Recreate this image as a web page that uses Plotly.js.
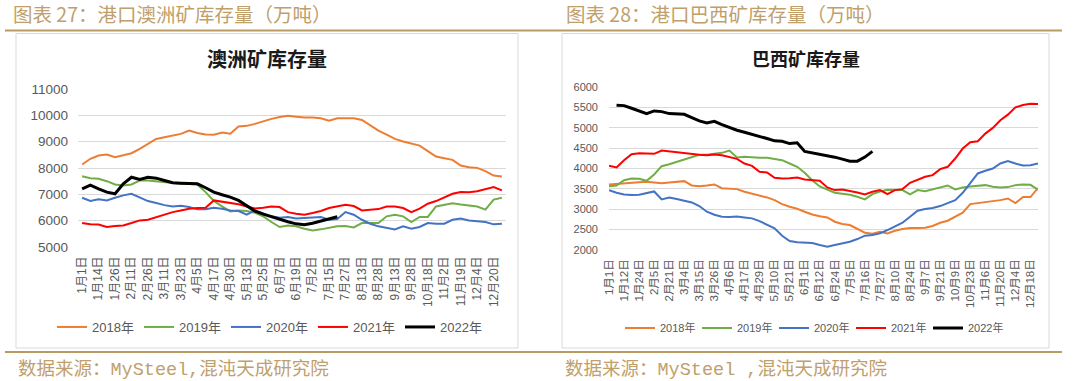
<!DOCTYPE html>
<html>
<head>
<meta charset="utf-8">
<script src="https://cdn.plot.ly/plotly-3.0.1.min.js"></script>
<style>
html,body{margin:0;padding:0;background:#fff;}
#chart{width:1080px;height:381px;}
</style>
</head>
<body>
<div id="chart"></div>
<script>
// ---------- Left chart: 澳洲矿库存量 ----------
const ausTickLabels = ["1月1日","1月14日","1月26日","2月11日","2月26日","3月11日","3月23日","4月5日","4月17日","4月30日","5月13日","5月25日","6月7日","6月19日","7月2日","7月15日","7月27日","8月13日","8月28日","9月13日","9月28日","10月18日","11月2日","11月19日","12月4日","12月20日"];
const aus2018 = [8133,8350,8475,8510,8410,8475,8560,8730,8915,9105,9170,9220,9295,9420,9330,9270,9260,9345,9300,9575,9600,9675,9775,9865,9940,9980,9950,9915,9915,9890,9800,9890,9890,9890,9825,9610,9420,9270,9105,9005,8940,8850,8640,8435,8370,8310,8095,8030,8005,7880,7715,7680];
const aus2019 = [7690,7615,7590,7500,7375,7340,7375,7525,7525,7490,7450,7425,7400,7390,7375,7085,6745,6540,6350,6390,6365,6300,6160,5950,5760,5820,5784,5695,5630,5670,5730,5785,5800,5745,5910,5910,5910,6165,6225,6165,5950,6140,6140,6540,6615,6665,6615,6565,6540,6420,6800,6870];
const aus2020 = [6870,6745,6810,6770,6870,6960,7020,6895,6745,6670,6590,6540,6565,6515,6430,6430,6490,6455,6390,6365,6225,6390,6265,6165,6110,6140,6085,6110,6140,6140,6035,6060,6325,6225,6035,5885,5785,5720,5670,5785,5695,5760,5910,5885,5885,6035,6085,6010,5985,5950,5860,5885];
const aus2021 = [5910,5860,5850,5760,5800,5820,5910,6010,6035,6140,6225,6325,6390,6455,6480,6490,6770,6720,6670,6620,6540,6465,6490,6540,6515,6325,6265,6225,6290,6365,6480,6540,6605,6555,6390,6415,6440,6540,6540,6480,6325,6455,6645,6745,6870,7020,7085,7080,7120,7200,7280,7150];
const aus2022 = [7210,7350,7210,7085,7020,7400,7650,7565,7650,7615,7525,7440,7425,7425,7400,7250,7085,6985,6895,6770,6555,6365,6250,6150,6050,5960,5880,5850,5900,5980,6080,6150];

// ---------- Right chart: 巴西矿库存量 ----------
const braTickLabels = ["1月1日","1月12日","1月24日","2月5日","2月21日","3月4日","3月15日","3月26日","4月6日","4月17日","4月29日","5月10日","5月21日","6月1日","6月12日","6月24日","7月5日","7月16日","7月27日","8月10日","8月24日","9月7日","9月21日","10月9日","10月23日","11月6日","11月20日","12月4日","12月18日"];
const bra2018 = [3608,3625,3641,3657,3665,3673,3649,3641,3657,3673,3690,3584,3567,3584,3608,3518,3510,3494,3429,3380,3347,3290,3224,3127,3061,3012,2939,2873,2830,2800,2694,2637,2612,2514,2424,2400,2449,2408,2473,2514,2539,2539,2547,2588,2669,2718,2816,2914,3127,3151,3192,3208,3224,3265,3150,3300,3300,3520];
const bra2019 = [3567,3584,3714,3755,3747,3698,3853,4057,4106,4163,4229,4286,4335,4335,4351,4384,4440,4270,4286,4270,4261,4261,4229,4204,4122,4041,3894,3714,3560,3486,3404,3380,3355,3306,3241,3371,3437,3478,3470,3470,3363,3470,3445,3494,3543,3584,3486,3535,3559,3567,3592,3551,3535,3543,3592,3608,3600,3480];
const bra2020 = [3469,3404,3363,3347,3355,3396,3437,3241,3290,3249,3208,3167,3078,2939,2865,2816,2808,2824,2800,2776,2710,2612,2531,2351,2220,2188,2180,2171,2122,2082,2122,2163,2204,2269,2351,2367,2408,2490,2571,2669,2816,2963,3004,3029,3078,3143,3224,3404,3633,3878,3943,4000,4122,4180,4122,4073,4082,4122];
const bra2021 = [4065,4025,4204,4351,4376,4360,4360,4440,4416,4400,4384,4351,4335,4327,4343,4327,4286,4237,4122,4065,3918,3902,3771,3755,3763,3780,3731,3714,3698,3535,3470,3486,3453,3412,3363,3429,3470,3372,3470,3494,3649,3731,3796,3837,3984,4041,4245,4490,4645,4669,4857,4996,5184,5322,5500,5560,5590,5580];
const bra2022 = [null,5551,5543,5478,5404,5347,5412,5396,5347,5339,5331,5249,5167,5118,5159,5078,5004,4939,4890,4841,4800,4735,4678,4670,4612,4629,4420,4384,4351,4320,4278,4229,4180,4180,4280,4420];

const seriesNames = ["2018年","2019年","2020年","2021年","2022年"];
const seriesColors = ["#ED7D31","#70AD47","#4472C4","#FF0000","#000000"];
const seriesWidths = [2,2,2,2,3];

const W = 1080, H = 381;
const px = v => v / W;
const py = v => 1 - v / H;
const idx = arr => arr.map((_, i) => i);

const ausSeries = [aus2018, aus2019, aus2020, aus2021, aus2022];
const braSeries = [bra2018, bra2019, bra2020, bra2021, bra2022];

const traces = [];
ausSeries.forEach((s, k) => traces.push({
  type: 'scatter', mode: 'lines', x: idx(s), y: s, name: seriesNames[k],
  line: {color: seriesColors[k], width: seriesWidths[k]},
  xaxis: 'x', yaxis: 'y', legend: 'legend', hoverinfo: 'skip'
}));
braSeries.forEach((s, k) => traces.push({
  type: 'scatter', mode: 'lines', x: idx(s), y: s, name: seriesNames[k],
  line: {color: seriesColors[k], width: seriesWidths[k]},
  xaxis: 'x2', yaxis: 'y2', legend: 'legend2', hoverinfo: 'skip'
}));

const tickFontFamily = 'Liberation Sans, Arial, Noto Sans CJK SC, sans-serif';
const cjk = 'Noto Sans CJK SC, sans-serif';
const mono = 'Liberation Mono, DejaVu Sans Mono, monospace';
const gold = '#bfa06b';
const goldLine = '#b99a63';

const sourceLeft = '数据来源：<span style="font-family:' + mono + '">MySteel,</span>混沌天成研究院';
const sourceRight = '数据来源：<span style="font-family:' + mono + '">MySteel ,</span>混沌天成研究院';

const layout = {
  width: W, height: H,
  margin: {l: 0, r: 0, t: 0, b: 0},
  paper_bgcolor: '#ffffff', plot_bgcolor: '#ffffff',
  showlegend: true,
  font: {family: tickFontFamily, color: '#595959'},
  xaxis: {
    domain: [px(78), px(506)], range: [-0.5, ausSeries[0].length - 0.5],
    tickmode: 'array', tickvals: ausTickLabels.map((_, k) => 2 * k), ticktext: ausTickLabels,
    tickangle: -90, tickfont: {size: 12, color: '#595959', family: tickFontFamily},
    showgrid: false, zeroline: false, showline: false, ticks: '', ticklabelstandoff: 6,
    anchor: 'y', fixedrange: true
  },
  yaxis: {
    domain: [py(247), py(89)], range: [5000, 11000], dtick: 1000, tick0: 5000, tickformat: 'd',
    gridcolor: '#d9d9d9', gridwidth: 1, zeroline: false, showline: false, ticks: '',
    tickfont: {size: 13.5, color: '#595959', family: tickFontFamily}, ticklabelstandoff: 9,
    anchor: 'x', fixedrange: true
  },
  xaxis2: {
    domain: [px(609), px(1038)], range: [0, braSeries[0].length - 1],
    tickmode: 'array', tickvals: braTickLabels.map((_, k) => 2 * k), ticktext: braTickLabels,
    tickangle: -90, tickfont: {size: 11.5, color: '#595959', family: tickFontFamily},
    showgrid: false, zeroline: false, showline: false, ticks: '', ticklabelstandoff: 6,
    anchor: 'y2', fixedrange: true
  },
  yaxis2: {
    domain: [py(250), py(87)], range: [2000, 6000], dtick: 500, tick0: 2000, tickformat: 'd',
    gridcolor: '#d9d9d9', gridwidth: 1, zeroline: false, showline: false, ticks: '',
    tickfont: {size: 11, color: '#595959', family: tickFontFamily}, ticklabelstandoff: 10,
    anchor: 'x2', fixedrange: true
  },
  legend: {
    orientation: 'h', x: px(52), y: py(327), xanchor: 'left', yanchor: 'middle',
    font: {size: 13, color: '#595959', family: tickFontFamily},
    bgcolor: 'rgba(0,0,0,0)', entrywidth: 42, itemwidth: 30, traceorder: 'normal'
  },
  legend2: {
    orientation: 'h', x: px(620), y: py(328), xanchor: 'left', yanchor: 'middle',
    font: {size: 11, color: '#595959', family: tickFontFamily},
    bgcolor: 'rgba(0,0,0,0)', entrywidth: 32, itemwidth: 30, traceorder: 'normal'
  },
  shapes: [
    {type: 'line', xref: 'paper', yref: 'paper', x0: px(5), x1: px(1062), y0: py(30.5), y1: py(30.5), line: {color: goldLine, width: 2}},
    {type: 'line', xref: 'paper', yref: 'paper', x0: px(5), x1: px(1062), y0: py(352), y1: py(352), line: {color: goldLine, width: 2}},
    {type: 'rect', xref: 'paper', yref: 'paper', x0: px(16), x1: px(518), y0: py(348), y1: py(33.5), line: {color: '#d9d9d9', width: 1}},
    {type: 'rect', xref: 'paper', yref: 'paper', x0: px(562), x1: px(1049), y0: py(348), y1: py(33.5), line: {color: '#d9d9d9', width: 1}}
  ],
  annotations: [
    {text: '图表 27：港口澳洲矿库存量（万吨）', xref: 'paper', yref: 'paper', x: px(11), y: py(14), xanchor: 'left', yanchor: 'middle', showarrow: false, font: {family: cjk, size: 19.5, color: gold}},
    {text: '图表 28：港口巴西矿库存量（万吨）', xref: 'paper', yref: 'paper', x: px(564), y: py(14), xanchor: 'left', yanchor: 'middle', showarrow: false, font: {family: cjk, size: 19.5, color: gold}},
    {text: '<b>澳洲矿库存量</b>', xref: 'paper', yref: 'paper', x: px(267), y: py(58), xanchor: 'center', yanchor: 'middle', showarrow: false, font: {family: cjk, size: 20, color: '#1a1a1a'}},
    {text: '<b>巴西矿库存量</b>', xref: 'paper', yref: 'paper', x: px(806), y: py(58), xanchor: 'center', yanchor: 'middle', showarrow: false, font: {family: cjk, size: 18, color: '#1a1a1a'}},
    {text: sourceLeft, xref: 'paper', yref: 'paper', x: px(16), y: py(367.5), xanchor: 'left', yanchor: 'middle', showarrow: false, font: {family: cjk, size: 18.5, color: gold}},
    {text: sourceRight, xref: 'paper', yref: 'paper', x: px(563), y: py(367.5), xanchor: 'left', yanchor: 'middle', showarrow: false, font: {family: cjk, size: 18.5, color: gold}}
  ]
};

Plotly.newPlot('chart', traces, layout, {staticPlot: true, displayModeBar: false});
</script>
</body>
</html>
